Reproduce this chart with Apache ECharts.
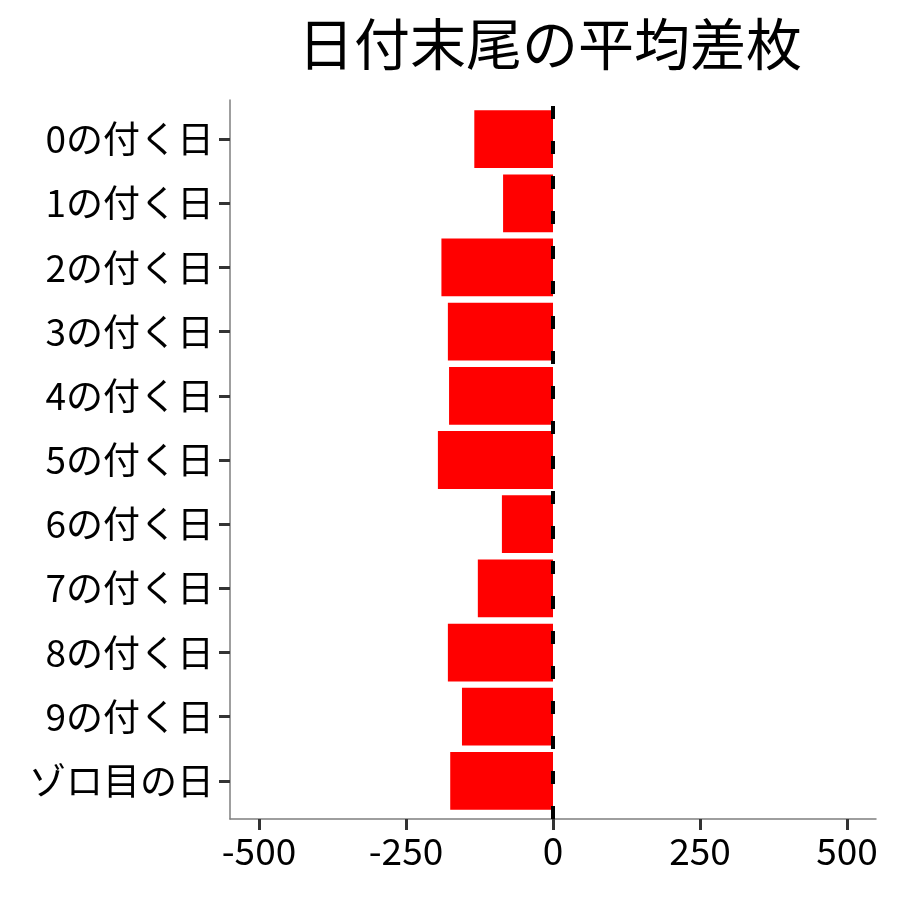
<!DOCTYPE html>
<html><head><meta charset="utf-8">
<script src="https://cdn.jsdelivr.net/npm/echarts@6/dist/echarts.min.js"></script>
<style>html,body{margin:0;padding:0;background:#fff}#c{width:900px;height:900px}</style>
</head><body><div id="c"></div>
<script>
const categories = ["0の付く日","1の付く日","2の付く日","3の付く日","4の付く日","5の付く日","6の付く日","7の付く日","8の付く日","9の付く日","ゾロ目の日"];
const values = [-134,-85,-190,-179,-177,-196,-87,-128,-179,-155,-175];
const xRange = [-550,550];      // panel extent (ggplot expansion)
const tickRange = [-500,500];   // labelled tick extent
const tickStep = 250;
const refLineAt = 0;
const titleText = "日付末尾の平均差枚";
const FONT = '"Noto Sans CJK JP","Noto Sans",sans-serif';
const AXIS_COLOR = '#7f7f7f', TICK_COLOR = '#333333';

const hiddenY = (i) => ({gridIndex:i,type:'value',min:0,max:1,
  axisLine:{show:false},axisTick:{show:false},axisLabel:{show:false},splitLine:{show:false}});

const chart = echarts.init(document.getElementById('c'));
chart.setOption({
  animation:false,
  backgroundColor:'#fff',
  title:{text:titleText,left:545,textAlign:'center',top:11,
    textStyle:{fontFamily:FONT,fontSize:56,fontWeight:'normal',color:'#000'}},
  grid:[
    {left:230,right:24,top:107,bottom:87},   // 0: bars (category bands)
    {left:230,right:24,top:100,bottom:81},   // 1: panel axis lines + reference line
    {left:259,right:53,top:100,bottom:81},   // 2: x ticks (-500..500)
    {left:259,right:53,top:100,bottom:81}    // 3: x tick labels (-500..500)
  ],
  xAxis:[
    {gridIndex:0,type:'value',min:xRange[0],max:xRange[1],
      axisLine:{show:false},axisTick:{show:false},axisLabel:{show:false},splitLine:{show:false}},
    {gridIndex:1,type:'value',min:xRange[0],max:xRange[1],
      axisLine:{show:true,onZero:false,lineStyle:{color:AXIS_COLOR,width:1.5}},
      axisTick:{show:false},axisLabel:{show:false},splitLine:{show:false}},
    {gridIndex:2,type:'value',min:tickRange[0],max:tickRange[1],interval:tickStep,
      axisLine:{show:true,onZero:false,lineStyle:{color:AXIS_COLOR,width:1.5,opacity:0}},
      axisTick:{show:true,length:11,lineStyle:{color:TICK_COLOR,width:3,opacity:1}},
      axisLabel:{show:false},splitLine:{show:false}},
    {gridIndex:3,type:'value',min:tickRange[0],max:tickRange[1],interval:tickStep,
      axisLine:{show:false},axisTick:{show:false},
      axisLabel:{color:'#000',fontFamily:FONT,fontSize:37,margin:13},splitLine:{show:false}}
  ],
  yAxis:[
    {gridIndex:0,type:'category',data:categories,inverse:true,
      axisLine:{show:true,onZero:false,lineStyle:{color:AXIS_COLOR,width:1.5,opacity:0}},
      axisTick:{show:true,alignWithLabel:true,length:11,lineStyle:{color:TICK_COLOR,width:3,opacity:1}},
      axisLabel:{color:'#000',fontFamily:FONT,fontSize:37,margin:16}},
    {gridIndex:1,type:'value',min:0,max:1,
      axisLine:{show:true,onZero:false,lineStyle:{color:AXIS_COLOR,width:1.5}},
      axisTick:{show:false},axisLabel:{show:false},splitLine:{show:false}},
    hiddenY(2),
    hiddenY(3)
  ],
  series:[
    {type:'bar',xAxisIndex:0,yAxisIndex:0,data:values,barWidth:'90%',itemStyle:{color:'#ff0000'}},
    {type:'line',xAxisIndex:1,yAxisIndex:1,data:[],
      markLine:{silent:true,symbol:'none',label:{show:false},
        lineStyle:{color:'#000',width:4,type:[13,22]},
        data:[{xAxis:refLineAt}]}},
    {type:'line',xAxisIndex:2,yAxisIndex:2,data:[]},
    {type:'line',xAxisIndex:3,yAxisIndex:3,data:[]}
  ]
});
</script></body></html>
